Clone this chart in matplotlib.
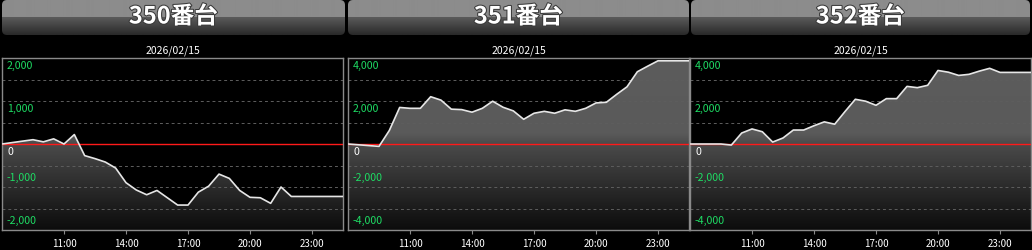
import numpy as np
import matplotlib
matplotlib.use('Agg')
import matplotlib.pyplot as plt
import matplotlib.patheffects as pe
from matplotlib.colors import LinearSegmentedColormap
from matplotlib.patches import PathPatch, FancyBboxPatch

plt.rcParams['font.family'] = ['Noto Sans CJK JP', 'DejaVu Sans']

# データ
titles = ['350番台', '351番台', '352番台']
date_label = '2026/02/15'
times = ['08:00', '09:30', '10:00', '10:30', '11:00', '11:30', '12:00', '12:30',
         '13:00', '13:30', '14:00', '14:30', '15:00', '15:30', '16:00', '16:30',
         '17:00', '17:30', '18:00', '18:30', '19:00', '19:30', '20:00', '20:30',
         '21:00', '21:30', '22:00', '22:30', '23:00', '24:30']
values_350 = [0, 100, 50, 120, 0, 220, -270, -340, -420, -560, -900, -1070, -1180, -1080,
              -1250, -1420, -1420, -1120, -980, -700, -800, -1080, -1240, -1250, -1380,
              -1000, -1220, -1220, -1220, -1220]
values_351 = [0, -110, 630, 1700, 1660, 1660, 2200, 2040, 1620, 1600, 1480, 1660, 1990,
              1710, 1540, 1150, 1430, 1520, 1430, 1590, 1520, 1660, 1910, 1940, 2310,
              2660, 3360, 3620, 3870, 3870]
values_352 = [0, 0, -50, 510, 700, 570, 90, 280, 650, 650, 850, 1030, 920, 1510, 2080,
              1990, 1800, 2110, 2110, 2680, 2620, 2730, 3420, 3340, 3190, 3240, 3390,
              3520, 3330, 3330]
series = [values_350, values_351, values_352]
y_limits = [2000, 4000, 4000]
grid_steps = [500, 1000, 1000]
label_steps = [1000, 2000, 2000]
xtick_hours = [11, 14, 17, 20, 23]

hours = np.array([int(t[:2]) + int(t[3:]) / 60 for t in times])

W, H = 1032, 250
fig = plt.figure(figsize=(W / 100, H / 100), dpi=100, facecolor='black')

axes_px = [(2, 343), (348, 689), (690, 1031)]
header_px = [(2, 345), (348, 689), (691, 1030)]

fill_cmap = LinearSegmentedColormap.from_list(
    'fill', [(0, '#0c0c0c'), (0.5, '#4a4a4a'), (0.56, '#5a5a5a'), (1, '#5c5c5c')])
head_col = np.concatenate([np.full(17, 0x8c), np.linspace(0x5a, 0x2a, 18)]) / 255
head_img = np.dstack([head_col, head_col, head_col]).reshape(-1, 1, 3)

for i in range(3):
    # 見出し
    hx0, hx1 = header_px[i]
    hw = hx1 - hx0
    hax = fig.add_axes([hx0 / W, 1 - 35 / H, hw / W, 35 / H])
    hax.set_axis_off()
    him = hax.imshow(head_img, extent=[0, 1, 0, 1], aspect='auto', interpolation='bilinear')
    box = FancyBboxPatch((0, 0), 1, 1, boxstyle='round,pad=0,rounding_size=%f' % (5 / hw),
                         mutation_aspect=hw / 35, transform=hax.transAxes,
                         facecolor='none', edgecolor='none')
    hax.add_patch(box)
    him.set_clip_path(box)
    hax.set_xlim(0, 1)
    hax.set_ylim(0, 1)
    hax.text(0.5, 0.53, titles[i], color='white', fontsize=17, fontweight='bold',
             ha='center', va='center', transform=hax.transAxes,
             path_effects=[pe.withStroke(linewidth=1.5, foreground='#3a3a3a')])

    # グラフ本体
    x0, x1 = axes_px[i]
    ax = fig.add_axes([x0 / W, 20 / H, (x1 - x0) / W, 172 / H])
    ax.set_facecolor('black')
    lim = y_limits[i]
    vals = np.array(series[i])

    im = ax.imshow(np.linspace(0, 1, 256).reshape(-1, 1), extent=[8, 24.5, -lim, lim],
                   origin='lower', aspect='auto', cmap=fill_cmap, zorder=1)
    poly = ax.fill_between(hours, vals, -lim, facecolor='none', edgecolor='none')
    clip = PathPatch(poly.get_paths()[0], transform=ax.transData,
                     facecolor='none', edgecolor='none')
    ax.add_patch(clip)
    im.set_clip_path(clip)

    for g in np.arange(-lim + grid_steps[i], lim, grid_steps[i]):
        if g != 0:
            ax.axhline(g, color='#5e5e5e', lw=0.7, dashes=(3, 3), zorder=2)
    ax.axhline(0, color='#ff1a1a', lw=1, zorder=3)
    ax.plot(hours, vals, color='#e6e6e6', lw=1.2, zorder=4)

    for v in np.arange(-lim, lim + 1, label_steps[i]):
        if v >= 0:
            off, va = -3, 'top'
        else:
            off, va = 4, 'bottom'
        ax.annotate(f'{int(v):,}', xy=(0, v), xycoords=('axes fraction', 'data'),
                    xytext=(5, off), textcoords='offset pixels', ha='left', va=va,
                    fontsize=7.6, color='white' if v == 0 else '#1edc64', zorder=5)

    ax.set_xlim(8, 24.5)
    ax.set_ylim(-lim, lim)
    ax.set_yticks([])
    ax.set_xticks(xtick_hours)
    ax.set_xticklabels([f'{h}:00' for h in xtick_hours])
    ax.tick_params(axis='x', colors='#8a8a8a', labelcolor='white', labelsize=7,
                   length=3, width=0.8, pad=3.5)
    for s in ax.spines.values():
        s.set_color('#8a8a8a')
        s.set_linewidth(1)
    ax.set_title(date_label, color='white', fontsize=7.5, pad=3)

fig.savefig('out.png', dpi=100, facecolor='black')
